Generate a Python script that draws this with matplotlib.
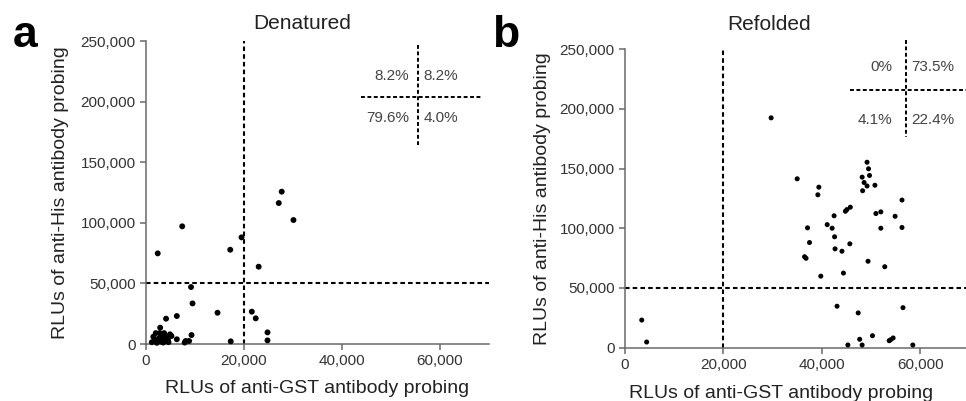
import matplotlib.pyplot as plt
from matplotlib.ticker import StrMethodFormatter

plt.rcParams["font.family"] = ["Liberation Sans", "DejaVu Sans"]

# Panel a - denatured (RLUs, anti-GST vs anti-His)
den_gst = [
    2400, 7400, 17200, 19500, 23000, 27100, 27700, 30100,
    21600, 22400, 24800, 24800,
    9200, 9500, 14600, 4100, 6300, 2900, 9300, 2000, 2800, 3700,
    4900, 5200, 4200, 3400, 2000, 2500, 3700, 4500, 6300, 8100,
    8800, 1800, 17300, 1200, 2200, 3000, 3500, 4000, 2600, 3100,
    1500, 4600, 7900,
]
den_his = [
    74800, 97100, 77800, 88000, 63800, 116300, 125700, 102300,
    26700, 21200, 9600, 3000,
    47000, 33500, 25800, 20900, 23100, 13500, 7400, 9000, 9000, 9000,
    8000, 6600, 5800, 5800, 3300, 3300, 3300, 3300, 3900, 2500,
    2500, 2500, 2200, 1500, 1000, 2000, 1200, 2400, 4500, 6800,
    6000, 1500, 1200,
]

# Panel b - refolded
ref_gst = [
    29700, 35000, 49200, 49500, 48200, 49700, 48600, 49200, 50800, 48300,
    39400, 39200, 56300, 45800, 45100, 44800, 52000, 51000, 54900, 42500,
    37100, 41100, 42100, 52000, 56300, 37500, 42600, 45700, 42700, 44100,
    36500, 36800, 49400, 52800, 39800, 44400,
    43100, 47400, 56500, 50300, 47700, 45300, 48200, 53700, 54500, 54000,
    58500,
    3400, 4400,
]
ref_his = [
    192500, 141400, 155300, 149800, 142800, 144200, 138300, 135400, 136000, 131400,
    134400, 128000, 123600, 117600, 115600, 114200, 113700, 112300, 110000, 110400,
    100300, 103000, 100000, 100000, 100600, 88000, 92800, 86900, 82700, 80700,
    76100, 74800, 72300, 67700, 59800, 62400,
    34600, 29000, 33400, 9900, 6900, 2100, 2100, 5700, 8000, 6500,
    2100,
    23000, 4600,
]

den_pct = ["8.2%", "8.2%", "79.6%", "4.0%"]
ref_pct = ["0%", "73.5%", "4.1%", "22.4%"]

gst_cut = 20000
his_cut = 50000
x_ticks = [0, 20000, 40000, 60000]
y_ticks = [0, 50000, 100000, 150000, 200000, 250000]

fig = plt.figure(figsize=(9.66, 4.01), dpi=100)
ax_a = fig.add_axes([0.1511, 0.1421, 0.3551, 0.7556])
ax_b = fig.add_axes([0.6470, 0.1334, 0.3565, 0.7438])

dash_main = (0, (2.2, 1.5))
dash_inset = (0, (2.0, 1.3))


def style_axes(ax):
    ax.set_xlim(0, 70000)
    ax.set_ylim(0, 250000)
    ax.set_xticks(x_ticks)
    ax.set_yticks(y_ticks)
    ax.xaxis.set_major_formatter(StrMethodFormatter("{x:,.0f}"))
    ax.yaxis.set_major_formatter(StrMethodFormatter("{x:,.0f}"))
    for s in ["top", "right"]:
        ax.spines[s].set_visible(False)
    for s in ["left", "bottom"]:
        ax.spines[s].set_color("#6a6a6a")
        ax.spines[s].set_linewidth(1.1)
    ax.tick_params(colors="#6a6a6a", labelcolor="#333333", labelsize=11,
                   length=4, width=1.1, direction="out")
    ax.axvline(gst_cut, color="black", lw=1.5, ls=dash_main, zorder=1)
    ax.axhline(his_cut, color="black", lw=1.5, ls=dash_main, zorder=1)


def quadrant_key(ax, labels, vx, vy0, vy1, hy, hx0, hx1, ty_top, ty_bot, tl, tr):
    ax.plot([vx, vx], [vy0, vy1], transform=ax.transAxes, color="black",
            lw=1.4, ls=dash_inset, clip_on=False)
    ax.plot([hx0, hx1], [hy, hy], transform=ax.transAxes, color="black",
            lw=1.4, ls=dash_inset, clip_on=False)
    kw = dict(transform=ax.transAxes, fontsize=11, color="#444444", va="center")
    ax.text(tl, ty_top, labels[0], ha="right", **kw)
    ax.text(tr, ty_top, labels[1], ha="left", **kw)
    ax.text(tl, ty_bot, labels[2], ha="right", **kw)
    ax.text(tr, ty_bot, labels[3], ha="left", **kw)


style_axes(ax_a)
ax_a.scatter(den_gst, den_his, s=18, color="black", edgecolors="none", zorder=3,
             clip_on=False)
quadrant_key(ax_a, den_pct, 0.793, 0.987, 0.657, 0.815, 0.627, 0.980,
             0.884, 0.746, 0.767, 0.808)
ax_a.set_xlabel("RLUs of anti-GST antibody probing", fontsize=14, color="#222222",
                va="center")
ax_a.set_ylabel("RLUs of anti-His antibody probing", fontsize=14, color="#222222",
                va="center")
ax_a.xaxis.set_label_coords(0.5, -0.146)
ax_a.yaxis.set_label_coords(-0.25, 0.5)
ax_a.text(0.455, 1.059, "Denatured", transform=ax_a.transAxes, fontsize=15,
          ha="center", va="center", color="#222222")

style_axes(ax_b)
ax_b.scatter(ref_gst, ref_his, s=13, color="black", edgecolors="none", zorder=3,
             clip_on=False)
quadrant_key(ax_b, ref_pct, 0.817, 1.03, 0.706, 0.863, 0.652, 1.0,
             0.94, 0.763, 0.777, 0.832)
ax_b.set_xlabel("RLUs of anti-GST antibody probing", fontsize=14, color="#222222",
                va="center")
ax_b.set_ylabel("RLUs of anti-His antibody probing", fontsize=14, color="#222222",
                va="center")
ax_b.xaxis.set_label_coords(0.454, -0.155)
ax_b.yaxis.set_label_coords(-0.24, 0.5)
ax_b.text(0.417, 1.082, "Refolded", transform=ax_b.transAxes, fontsize=15,
          ha="center", va="center", color="#222222")

fig.text(0.0135, 0.883, "a", fontsize=32, fontweight="bold", ha="left", va="baseline")
fig.text(0.509, 0.883, "b", fontsize=32, fontweight="bold", ha="left", va="baseline")

fig.savefig("out.png", dpi=100)
